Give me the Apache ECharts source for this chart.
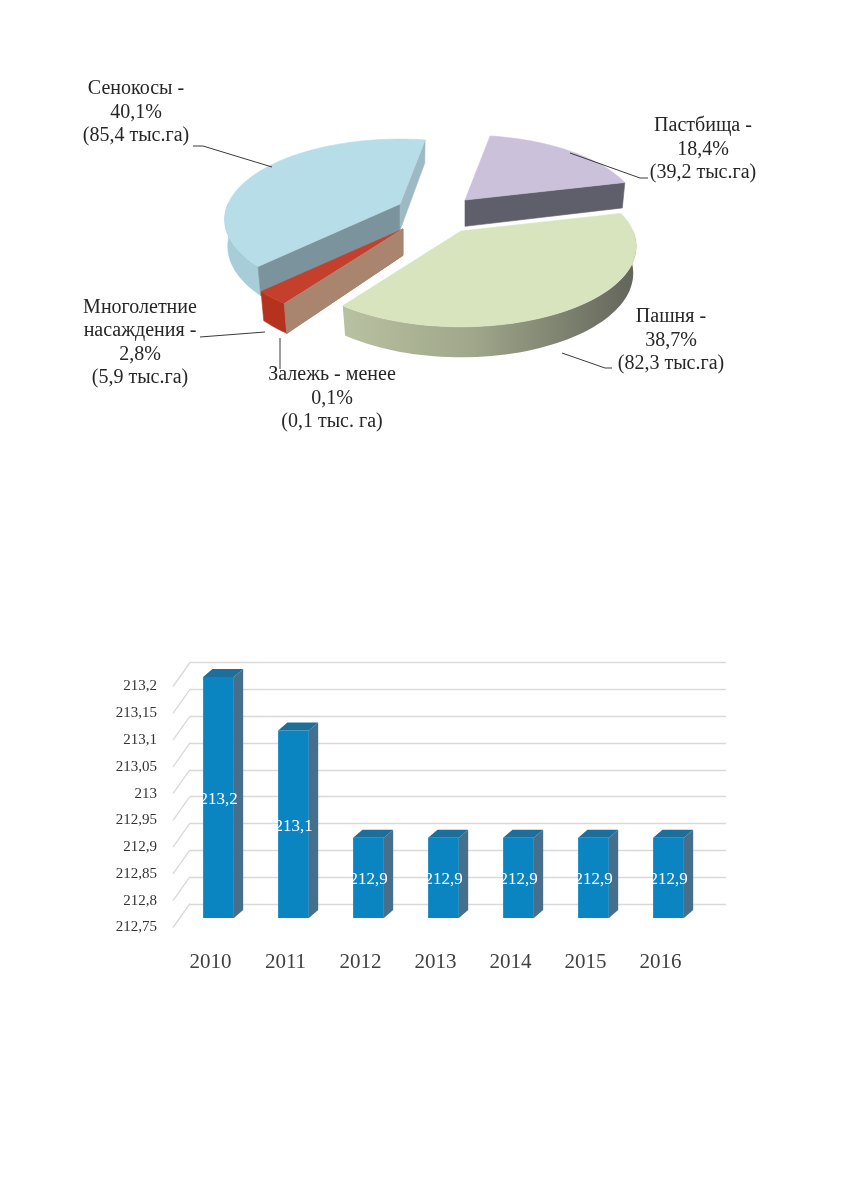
<!DOCTYPE html>
<html>
<head>
<meta charset="utf-8">
<script src="https://cdn.jsdelivr.net/npm/echarts@6/dist/echarts.min.js"></script>
<style>
html, body { margin: 0; padding: 0; background: #fff; }
#chart { width: 850px; height: 1191px; }
</style>
</head>
<body>
<div id="chart"></div>
<script>
// structure of agricultural land, clockwise from the top
var landNames = ['Пастбища', 'Пашня', 'Залежь', 'Многолетние насаждения', 'Сенокосы'];
var landArea = [39.2, 82.3, 0.1, 5.9, 85.4];   // тыс. га
var landShare = ['18,4%', '38,7%', '0,1%', '2,8%', '40,1%'];
var landLabels = [
  'Пастбища -\n18,4%\n(39,2 тыс.га)',
  'Пашня -\n38,7%\n(82,3 тыс.га)',
  'Залежь - менее\n0,1%\n(0,1 тыс. га)',
  'Многолетние\nнасаждения -\n2,8%\n(5,9 тыс.га)',
  'Сенокосы -\n40,1%\n(85,4 тыс.га)'
];

// total area by year, тыс. га
var years = ['2010', '2011', '2012', '2013', '2014', '2015', '2016'];
var totalArea = [213.2, 213.1, 212.9, 212.9, 212.9, 212.9, 212.9];
var areaTicks = [212.75, 212.8, 212.85, 212.9, 212.95, 213, 213.05, 213.1, 213.15, 213.2];
var areaTickStep = 0.05;

// ---- styles ----
var serif = '"Liberation Serif", "DejaVu Serif", serif';

var pieStyle = {
  R: 172, sinA: 0.45, persp: 800, H: 30,
  apex: [[465, 200], [461, 231], [403, 229], [403, 229], [400, 204]],
  z: [10, 20, 50, 40, 30],
  top: ['#CCC1DA', '#D7E4BD', '#B08C78', '#C4402C', '#B7DDE8'],
  wall: ['#8E86A0',
    { type: 'linear', x: 0, y: 0, x2: 1, y2: 0, colorStops: [
      { offset: 0, color: '#B8C1A0' }, { offset: 0.45, color: '#9FA68A' }, { offset: 1, color: '#626459' }] },
    '#A9846F', '#B5321F', '#A7CDD8'],
  cutHi: ['#8E86A0', '#8C927A', '#A9846F', '#A8402C', '#7B939C'],
  cutLo: ['#5F5E6B', '#8C927A', '#A9846F', '#A8402C', '#9DBAC4'],
  labelPos: [[703, 149.5], [671, 340.5], [332, 398.5], [140, 342.5], [136, 112.3]],
  leader: [
    [[570, 153], [640, 178], [648, 178]],
    [[562, 353], [605, 368], [612, 368]],
    [[280, 338], [280, 369]],
    [[265, 332], [200, 337]],
    [[272, 167], [203, 146], [193, 146]]
  ]
};

var barStyle = {
  widthRatio: 0.41, depthX: 9.3, depthY: 8,
  front: '#0B84C2', side: '#466F8C', top: '#1E6E9A',
  wallDX: 17, wallDY: -24, grid: '#D9D9D9'
};

// cumulative values for slice boundaries
var landTotal = landArea.reduce(function (a, b) { return a + b; }, 0);
var cumStart = [], cumEnd = [];
landArea.reduce(function (acc, v, i) { cumStart.push(acc); cumEnd.push(acc + v); return acc + v; }, 0);

var cosA = Math.sqrt(1 - pieStyle.sinA * pieStyle.sinA);

function proj(apex, r, ang, h) {
  var px = r * Math.cos(ang), pz = r * Math.sin(ang);
  var depth = pz * cosA - h * pieStyle.sinA;
  var s = pieStyle.persp / (pieStyle.persp + depth);
  return [apex[0] + px * s, apex[1] - (pz * pieStyle.sinA + h * cosA) * s];
}

function arc(apex, from, to, h) {
  var n = Math.max(2, Math.ceil(Math.abs(to - from) / (Math.PI / 90)));
  var pts = [];
  for (var k = 0; k <= n; k++) pts.push(proj(apex, pieStyle.R, from + (to - from) * k / n, h));
  return pts;
}

function renderSlice(params, api) {
  var cs = params.coordSys;
  var i = params.dataIndex;
  var p1 = api.coord([1, api.value(1)]);
  var p2 = api.coord([1, api.value(2)]);
  var hi = Math.atan2(cs.cy - p1[1], p1[0] - cs.cx);
  var lo = Math.atan2(cs.cy - p2[1], p2[0] - cs.cx);
  if (hi <= lo) hi += Math.PI * 2;
  var apex = pieStyle.apex[i], H = -pieStyle.H, z = pieStyle.z[i];
  var children = [];
  function poly(points, fill, z2) {
    children.push({ type: 'polygon', z2: z2, shape: { points: points },
      style: { fill: fill, stroke: typeof fill === 'string' ? fill : null, lineWidth: 0.6 } });
  }
  // outer wall, front half only
  [-2, 0, 2].forEach(function (k) {
    var a = Math.max(lo, Math.PI * (1 + k)), b = Math.min(hi, Math.PI * (2 + k));
    if (b > a) {
      var pts = arc(apex, a, b, 0).concat(arc(apex, b, a, H));
      poly(pts, pieStyle.wall[i], z);
    }
  });
  // radial cut faces
  function cut(ang, fill) {
    var o = proj(apex, 0, ang, 0), ob = proj(apex, 0, ang, H);
    var r = proj(apex, pieStyle.R, ang, 0), rb = proj(apex, pieStyle.R, ang, H);
    poly([o, r, rb, ob], fill, z);
  }
  if (Math.cos(hi) < 0) cut(hi, pieStyle.cutHi[i]);
  if (Math.cos(lo) > 0) cut(lo, pieStyle.cutLo[i]);
  // top face
  poly([proj(apex, 0, 0, 0)].concat(arc(apex, hi, lo, 0)), pieStyle.top[i], z + 1);
  // leader and label
  children.push({ type: 'polyline', z2: 100, shape: { points: pieStyle.leader[i] },
    style: { stroke: '#3a3a3a', lineWidth: 1, fill: null } });
  children.push({ type: 'text', z2: 100, x: pieStyle.labelPos[i][0], y: pieStyle.labelPos[i][1],
    style: { text: landLabels[i], fill: '#262626', font: '20px ' + serif, lineHeight: 23.5,
      align: 'center', verticalAlign: 'middle' } });
  return { type: 'group', children: children };
}

function fmtNum(v) { return String(+(+v).toFixed(2)).replace('.', ','); }

function renderBar(params, api) {
  var x = api.value(0), v = api.value(1);
  var top = api.coord([x, v]);
  var base = api.coord([x, areaTicks[0]]);
  var w = api.size([1, 0])[0] * barStyle.widthRatio;
  var x0 = top[0] - w / 2, x1 = top[0] + w / 2;
  var dx = barStyle.depthX, dy = barStyle.depthY;
  return { type: 'group', children: [
    { type: 'rect', shape: { x: x0, y: top[1], width: w, height: base[1] - top[1] },
      style: { fill: barStyle.front } },
    { type: 'polygon', shape: { points: [[x1, top[1]], [x1 + dx, top[1] - dy], [x1 + dx, base[1] - dy], [x1, base[1]]] },
      style: { fill: barStyle.side } },
    { type: 'polygon', shape: { points: [[x0, top[1]], [x1, top[1]], [x1 + dx, top[1] - dy], [x0 + dx, top[1] - dy]] },
      style: { fill: barStyle.top } },
    { type: 'text', x: top[0], y: (top[1] + base[1]) / 2 + 2,
      style: { text: fmtNum(v), fill: '#fff', font: '17px ' + serif, align: 'center', verticalAlign: 'middle' } }
  ] };
}

function renderFloorLine(params, api) {
  var p = api.coord([0, api.value(1)]);
  var left = p[0] - api.size([1, 0])[0] / 2;
  return { type: 'line', shape: { x1: left, y1: p[1], x2: left + barStyle.wallDX, y2: p[1] + barStyle.wallDY },
    style: { stroke: barStyle.grid, lineWidth: 1.3 } };
}

var valueAxisBase = { type: 'value', min: areaTicks[0], max: areaTicks[areaTicks.length - 1], interval: areaTickStep };

var option = {
  animation: false,
  backgroundColor: '#ffffff',
  polar: { center: [435, 220], radius: 100 },
  angleAxis: { type: 'value', min: 0, max: landTotal, startAngle: 80, clockwise: true, show: false },
  radiusAxis: { type: 'value', min: 0, max: 1, show: false },
  grid: [
    { left: 173, top: 686.5, width: 525, height: 241 },
    { left: 181, top: 677, width: 525, height: 241 },
    { left: 190, top: 662.5, width: 536, height: 241.5 }
  ],
  xAxis: [
    { type: 'category', gridIndex: 0, data: years, axisLine: { show: false }, axisTick: { show: false },
      axisLabel: { fontFamily: serif, fontSize: 21, color: '#404040', margin: 24 } },
    { type: 'category', gridIndex: 1, data: years, show: false },
    { type: 'category', gridIndex: 2, data: years, show: false }
  ],
  yAxis: [
    Object.assign({ gridIndex: 0, axisLine: { show: false }, axisTick: { show: false }, splitLine: { show: false },
      axisLabel: { fontFamily: serif, fontSize: 15, color: '#333', margin: 16, formatter: fmtNum } }, valueAxisBase),
    Object.assign({ gridIndex: 1, show: false }, valueAxisBase),
    Object.assign({ gridIndex: 2, axisLine: { show: false }, axisTick: { show: false }, axisLabel: { show: false },
      splitLine: { show: true, lineStyle: { color: barStyle.grid, width: 1.3 } } }, valueAxisBase)
  ],
  series: [
    { type: 'custom', name: 'Структура земель', coordinateSystem: 'polar',
      data: landArea.map(function (v, i) { return [1, cumStart[i], cumEnd[i]]; }),
      encode: { radius: 0, angle: 1 },
      renderItem: renderSlice },
    { type: 'custom', name: 'floor', xAxisIndex: 0, yAxisIndex: 0, z: 1,
      data: areaTicks.map(function (v) { return [0, v]; }),
      encode: { x: 0, y: 1 },
      renderItem: renderFloorLine },
    { type: 'custom', name: 'Площадь', xAxisIndex: 1, yAxisIndex: 1,
      data: totalArea.map(function (v, i) { return [i, v]; }),
      encode: { x: 0, y: 1 },
      renderItem: renderBar }
  ]
};

var chart = echarts.init(document.getElementById('chart'));
chart.setOption(option);
</script>
</body>
</html>
